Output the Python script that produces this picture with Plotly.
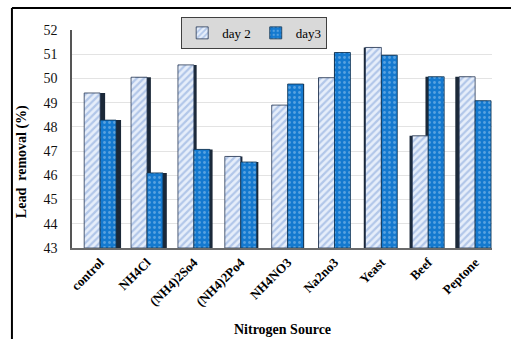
import plotly.graph_objects as go

# Lead removal (%) by nitrogen source, measured on day 2 and day 3
sources = ["control", "NH4Cl", "(NH4)2So4", "(NH4)2Po4", "NH4NO3",
           "Na2no3", "Yeast", "Beef", "Peptone"]
day2 = [49.4, 50.05, 50.56, 46.78, 48.9, 50.03, 51.28, 47.63, 50.07]
day3 = [48.28, 46.1, 47.07, 46.55, 49.77, 51.07, 50.96, 50.07, 49.08]
y_ticks = [43, 44, 45, 46, 47, 48, 49, 50, 51, 52]

SERIF = "Liberation Serif"
BASE = 43
BAR_W = 0.34          # width of each bar in category units
PX = 1 / 46.9         # one pixel in category units

# Pseudo-3D depth: each bar gets a dark side face whose width and side
# depend on where it sits relative to the vanishing point.
idx = list(range(len(sources)))
face = [5 * (4.5 - i) / 4.5 * PX for i in idx]

x2 = [i - BAR_W for i in idx]
x3 = [i for i in idx]

fig = go.Figure()

side_color = "#1b2838"
# side faces (drawn first so the front faces sit on top)
fig.add_trace(go.Bar(
    x=[a + f for a, f in zip(x2, face)], y=[v - BASE for v in day2], base=BASE,
    width=BAR_W, offset=0, marker=dict(color=side_color, line=dict(width=0)),
    showlegend=False, hoverinfo="skip"))
fig.add_trace(go.Bar(
    x=[a + f for a, f in zip(x3, face)], y=[v - BASE for v in day3], base=BASE,
    width=BAR_W, offset=0, marker=dict(color=side_color, line=dict(width=0)),
    showlegend=False, hoverinfo="skip"))

# front faces
fig.add_trace(go.Bar(
    name="day 2", x=x2, y=[v - BASE for v in day2], base=BASE,
    width=BAR_W, offset=0,
    marker=dict(
        color="#dbe5f5",
        line=dict(color="#2a3a55", width=0.8),
        pattern=dict(shape="/", fgcolor="#7d9fd8", bgcolor="#e6eefa",
                     size=5, solidity=0.45)),
    customdata=sources, hovertemplate="%{customdata}: %{y}<extra>day 2</extra>"))
fig.add_trace(go.Bar(
    name="day3", x=x3, y=[v - BASE for v in day3], base=BASE,
    width=BAR_W, offset=0,
    marker=dict(
        color="#1177cc",
        line=dict(color="#12324f", width=0.8),
        pattern=dict(shape=".", fgcolor="#9cc9f0", bgcolor="#1479cf",
                     size=5, solidity=0.25)),
    customdata=sources, hovertemplate="%{customdata}: %{y}<extra>day3</extra>"))

fig.update_layout(
    width=511, height=339,
    margin=dict(l=72, r=19, t=30, b=91),
    paper_bgcolor="white", plot_bgcolor="white",
    barmode="overlay",
    font=dict(family=SERIF, color="#000000"),
    legend=dict(
        orientation="h", x=0.26, y=1.06, xanchor="left", yanchor="top",
        bgcolor="#d9d9d9", bordercolor="#404040", borderwidth=1,
        font=dict(family=SERIF, size=13, color="#000000"),
        itemwidth=30, tracegroupgap=0),
)

fig.update_xaxes(
    range=[-0.6, 8.36],
    tickmode="array", tickvals=idx, ticktext=[f"<b>{s}</b>" for s in sources],
    tickangle=-45, tickfont=dict(family=SERIF, size=13, color="#000000"),
    showgrid=False, zeroline=False,
    showline=True, linecolor="#6b6b6b", linewidth=1.5, ticks="")

fig.update_yaxes(
    range=[43, 52], tickvals=y_ticks,
    tickfont=dict(family=SERIF, size=14, color="#111111"),
    showgrid=True, gridcolor="#e3e3e3", gridwidth=1, zeroline=False,
    showline=True, linecolor="#555555", linewidth=1.5, ticks="",
    ticklabelstandoff=10)

# axis titles
fig.add_annotation(
    text="<b>Nitrogen Source</b>", xref="paper", yref="paper",
    x=0.5, y=-0.376, xanchor="center", yanchor="middle", showarrow=False,
    font=dict(family=SERIF, size=14, color="#000000"))
fig.add_annotation(
    text="<b>Lead  removal (%)</b>", xref="paper", yref="paper",
    x=-0.119, y=0.394, xanchor="center", yanchor="middle", showarrow=False,
    textangle=-90, font=dict(family=SERIF, size=14, color="#000000"))

# chart frame (top and left edges)
frame = dict(color="#000000", width=2)
fig.add_shape(type="line", xref="paper", yref="paper",
              x0=-0.143, x1=1.05, y0=1.101, y1=1.101, line=frame)
fig.add_shape(type="line", xref="paper", yref="paper",
              x0=-0.143, x1=-0.143, y0=1.101, y1=-0.42, line=frame)

fig.write_html("out.html")
